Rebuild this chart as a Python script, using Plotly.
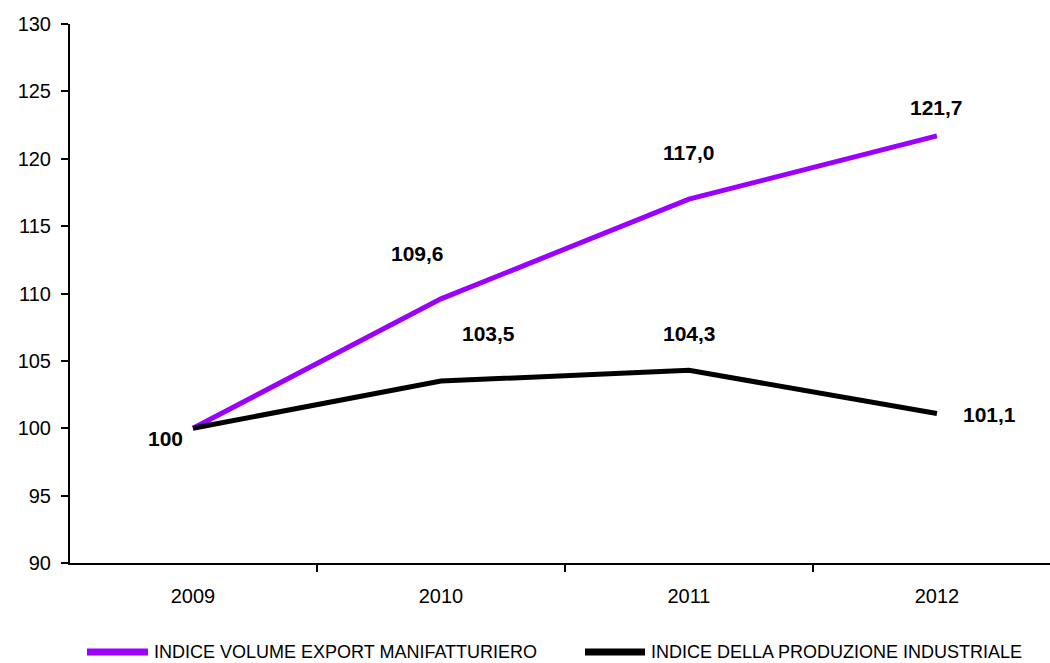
import plotly.graph_objects as go

years = ["2009", "2010", "2011", "2012"]
export_vals = [100.0, 109.6, 117.0, 121.7]
prod_vals = [100.0, 103.5, 104.3, 101.1]
export_name = "INDICE VOLUME EXPORT MANIFATTURIERO"
prod_name = "INDICE DELLA PRODUZIONE INDUSTRIALE"
y_ticks = [90, 95, 100, 105, 110, 115, 120, 125, 130]

# label offsets (pixels) for data labels
export_off = [None, (-23, -45), (0, -47), (0, -28)]
prod_off = [(-28, 10), (48, -48), (1, -37), (53, 1)]

FONT = "Liberation Sans, Arial, sans-serif"
PURPLE = "#9B00FF"

def fmt(v, first=False):
    if first:
        return "%d" % v
    return ("%.1f" % v).replace(".", ",")

fig = go.Figure()
fig.add_trace(go.Scatter(x=years, y=export_vals, mode="lines", name=export_name,
                         line=dict(color=PURPLE, width=5), showlegend=False))
fig.add_trace(go.Scatter(x=years, y=prod_vals, mode="lines", name=prod_name,
                         line=dict(color="#000000", width=5), showlegend=False))

ann = []
for i, v in enumerate(export_vals):
    if export_off[i] is None:
        continue
    dx, dy = export_off[i]
    ann.append(dict(x=i, y=v, xref="x", yref="y", text="<b>%s</b>" % fmt(v), showarrow=True,
                    arrowcolor="rgba(0,0,0,0)", arrowwidth=0.1,
                    ax=dx, ay=dy, font=dict(size=21, color="#000", family=FONT)))
for i, v in enumerate(prod_vals):
    dx, dy = prod_off[i]
    ann.append(dict(x=i, y=v, xref="x", yref="y", text="<b>%s</b>" % fmt(v, i == 0), showarrow=True,
                    arrowcolor="rgba(0,0,0,0)", arrowwidth=0.1,
                    ax=dx, ay=dy, font=dict(size=21, color="#000", family=FONT)))

# manual legend (paper coords)
leg_y = (563 - 652) / 539
shapes = [
    dict(type="line", xref="paper", yref="paper", x0=(87 - 70) / 980, x1=(148 - 70) / 980,
         y0=leg_y, y1=leg_y, line=dict(color=PURPLE, width=7)),
    dict(type="line", xref="paper", yref="paper", x0=(585 - 70) / 980, x1=(645 - 70) / 980,
         y0=leg_y, y1=leg_y, line=dict(color="#000000", width=7)),
]
ann.append(dict(xref="paper", yref="paper", x=(152 - 70) / 980, y=leg_y, text=export_name,
                showarrow=False, xanchor="left", yanchor="middle",
                font=dict(size=18, color="#000", family=FONT)))
ann.append(dict(xref="paper", yref="paper", x=(649 - 70) / 980, y=leg_y, text=prod_name,
                showarrow=False, xanchor="left", yanchor="middle",
                font=dict(size=18, color="#000", family=FONT)))

fig.update_layout(
    width=1050, height=663,
    margin=dict(l=70, r=0, t=24, b=100),
    paper_bgcolor="white", plot_bgcolor="white",
    font=dict(family=FONT, size=20, color="#000"),
    annotations=ann, shapes=shapes,
    showlegend=False,
)
fig.update_xaxes(type="category", range=[-0.496, 3.456], tickson="boundaries",
                 ticks="outside", ticklen=7, tickwidth=2, tickcolor="#000",
                 showline=True, linecolor="#000", linewidth=2, showgrid=False,
                 tickfont=dict(size=20, family=FONT), zeroline=False, ticklabelstandoff=14)
fig.update_yaxes(range=[90, 130], tickvals=y_ticks, ticks="outside", ticklen=7, tickwidth=2,
                 tickcolor="#000", showline=True, linecolor="#000", linewidth=2, showgrid=False,
                 zeroline=False, tickfont=dict(size=20, family=FONT), ticklabelstandoff=6)

fig.write_html("out.html")
